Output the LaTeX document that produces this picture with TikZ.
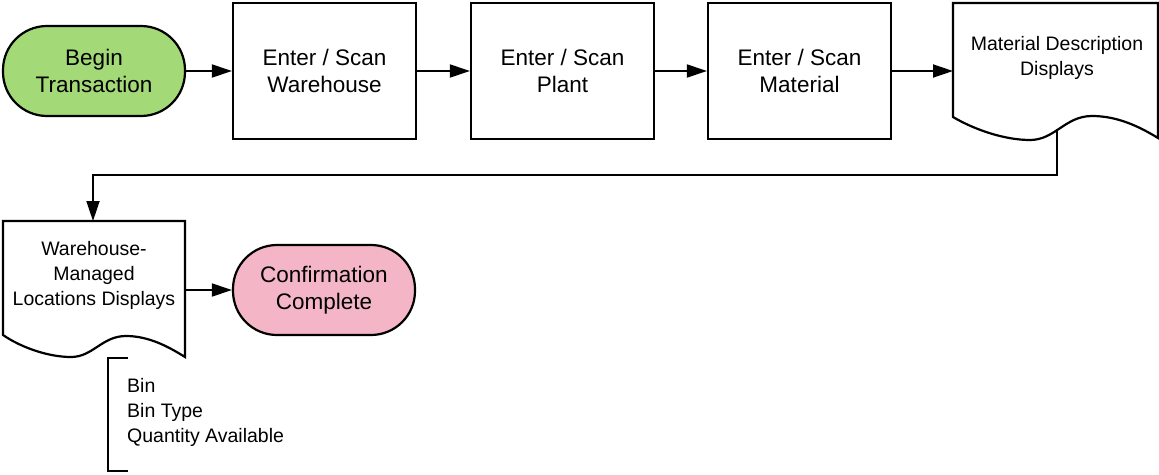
\documentclass[tikz,border=0pt]{standalone}
\usepackage{fontspec}
\setmainfont{Liberation Sans}
\usetikzlibrary{arrows.meta,positioning}
\definecolor{termgreen}{HTML}{A3D977}
\definecolor{termpink}{HTML}{F4B6C7}
\begin{document}
\begin{tikzpicture}[x=1pt,y=-1pt,
  boxtxt/.style={font=\fontsize{22.5}{27}\selectfont, align=center},
  doctxt/.style={font=\fontsize{19.5}{25}\selectfont, align=center},
  terminal/.style={boxtxt, draw=black, line width=2.2pt, rounded corners=44pt,
     minimum width=182pt, minimum height=90pt, inner sep=0pt},
  procbox/.style={boxtxt, draw=black, line width=2.2pt, minimum width=183pt, minimum height=136pt, inner sep=0pt},
  docshape/.style={draw=black, line width=2.2pt, fill=white, line join=miter},
  flow/.style={line width=1.8pt, -{Triangle[length=20pt,width=13pt]}},
  bracketline/.style={line width=2.2pt}
]
\useasboundingbox (0,0) rectangle (1159,474);

% terminals and process boxes
\node[terminal, fill=termgreen] (begin) at (94,71) {Begin\\Transaction};
\node[procbox] (wh) at (324.5,71) {Enter / Scan\\Warehouse};
\node[procbox] (plant) at (562.5,71) {Enter / Scan\\Plant};
\node[procbox] (mat) at (799.5,71) {Enter / Scan\\Material};

% document 1
\draw[docshape] (953,3) -- (1158,3) -- (1158,138)
  .. controls (1140,127) and (1118,116) .. (1092,116)
  .. controls (1065,116) and (1055,140) .. (1030,140)
  .. controls (1005,140) and (975,130) .. (953,117) -- cycle;
\node[minimum width=205pt, minimum height=114pt, inner sep=0pt, anchor=north west] (doc1) at (953,3) {};
\node[doctxt] (doc1txt) at (1057,57.5) {Material Description\\Displays};
\coordinate (d1out) at (1057,129);
\coordinate (bendA) at (1057,175);
\coordinate (bendB) at (93,175);

% document 2
\draw[docshape] (3,221) -- (185,221) -- (185,357)
  .. controls (169,347) and (149,336) .. (126,336)
  .. controls (102,336) and (93,357) .. (71,357)
  .. controls (49,357) and (22,348) .. (3,335) -- cycle;
\node[minimum width=182pt, minimum height=114pt, inner sep=0pt, anchor=north west] (doc2) at (3,221) {};
\node[doctxt] (doc2txt) at (94,275) {Warehouse-\\Managed\\Locations Displays};
\coordinate (d2in) at (93,221);
\coordinate (d2out) at (185,290);

% confirmation
\node[terminal, fill=termpink] (conf) at (324,290) {Confirmation\\Complete};

% connectors
\draw[flow] (begin.east) -- (wh.west);
\draw[flow] (wh.east) -- (plant.west);
\draw[flow] (plant.east) -- (mat.west);
\draw[flow] (mat.east) -- (mat.east -| doc1.west);
\draw[flow] (d1out) -- (bendA) -- (bendB) -- (d2in);
\draw[flow] (d2out) -- (conf.west);

% annotation bracket
\coordinate (brtop) at (108,358);
\coordinate (brbot) at (108,471);
\draw[bracketline] ([xshift=20pt]brtop) -- (brtop) -- (brbot) -- ([xshift=20pt]brbot);
\node[font=\fontsize{19.5}{25}\selectfont, align=left, anchor=west, inner sep=0pt] (notes) at (127,412) {Bin\\Bin Type\\Quantity Available};
\end{tikzpicture}
\end{document}
